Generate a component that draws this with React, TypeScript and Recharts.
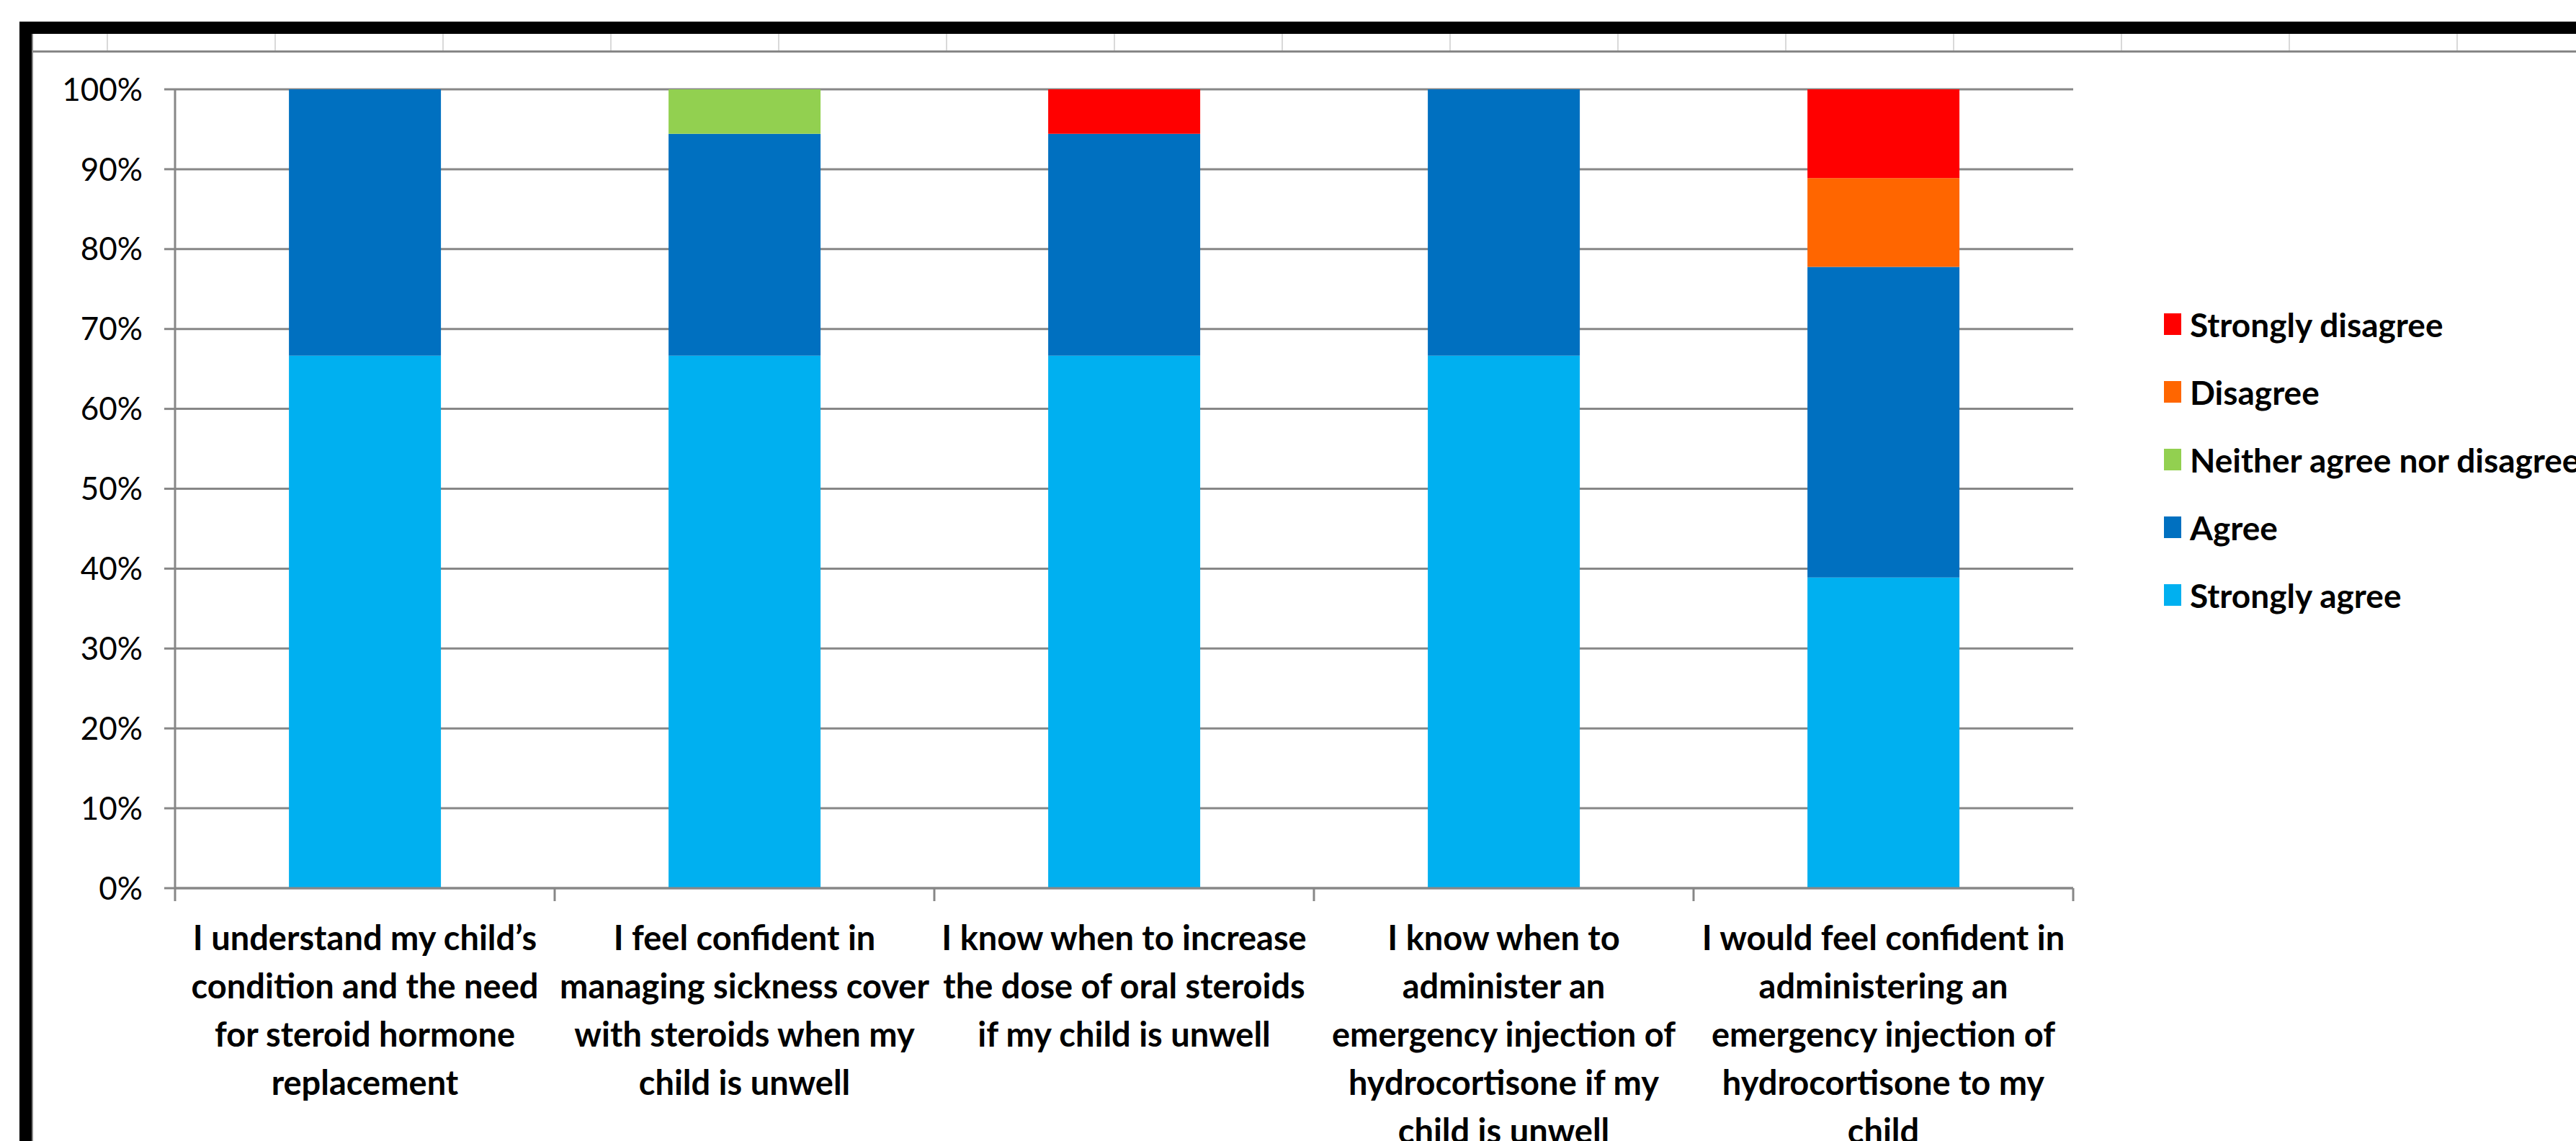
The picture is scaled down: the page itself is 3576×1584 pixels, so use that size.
import { BarChart, Bar, XAxis, YAxis, CartesianGrid } from 'recharts';

// survey answers, share of respondents (%)
const CATEGORIES = [
  'I understand my child’s\ncondition and the need\nfor steroid hormone\nreplacement',
  'I feel confident in\nmanaging sickness cover\nwith steroids when my\nchild is unwell',
  'I know when to increase\nthe dose of oral steroids\nif my child is unwell',
  'I know when to\nadminister an\nemergency injection of\nhydrocortisone if my\nchild is unwell',
  'I would feel confident in\nadministering an\nemergency injection of\nhydrocortisone to my\nchild',
];
const STRONGLY_AGREE = [66.67, 66.67, 66.67, 66.67, 38.89];
const AGREE = [33.33, 27.77, 27.77, 33.33, 38.89];
const NEITHER = [0, 5.56, 0, 0, 0];
const DISAGREE = [0, 0, 0, 0, 11.11];
const STRONGLY_DISAGREE = [0, 0, 5.56, 0, 11.11];
const Y_TICKS = [0, 10, 20, 30, 40, 50, 60, 70, 80, 90, 100];

const SERIES = [
  { key: 'sa', name: 'Strongly agree', values: STRONGLY_AGREE, color: '#00B0F0' },
  { key: 'a', name: 'Agree', values: AGREE, color: '#0070C0' },
  { key: 'n', name: 'Neither agree nor disagree', values: NEITHER, color: '#92D050' },
  { key: 'd', name: 'Disagree', values: DISAGREE, color: '#FF6600' },
  { key: 'sd', name: 'Strongly disagree', values: STRONGLY_DISAGREE, color: '#FF0000' },
];

const W = 3576;
const H = 1584;
const MARGIN = { top: 124, right: 698, bottom: 0, left: 0 };
const Y_AXIS_W = 243;
const X_AXIS_H = 351;
const BAND = (W - MARGIN.left - MARGIN.right - Y_AXIS_W) / CATEGORIES.length;
const GRID = '#878787';
const FONT = 'Lato, "Open Sans", sans-serif';

const data = CATEGORIES.map((name, i) => {
  const row: Record<string, any> = { name };
  SERIES.forEach(s => { row[s.key] = s.values[i]; });
  return row;
});

function CategoryTick(props: any) {
  const { x, y, payload, index } = props;
  const lines = String(payload.value).split('\n');
  const left = x - BAND / 2;
  return (
    <g>
      <line x1={left} x2={left} y1={y} y2={y + 18} stroke={GRID} strokeWidth={3} />
      {index === CATEGORIES.length - 1 && (
        <line x1={x + BAND / 2} x2={x + BAND / 2} y1={y} y2={y + 18} stroke={GRID} strokeWidth={3} />
      )}
      <text textAnchor="middle" fontFamily={FONT} fontWeight={700} fontSize={47} fill="#000">
        {lines.map((l, i) => (
          <tspan key={i} x={x} y={y + 86 + i * 67}>{l}</tspan>
        ))}
      </text>
    </g>
  );
}

export default function App() {
  const headerLines = Array.from({ length: 15 }, (_, k) => 148 + 233 * k);
  return (
    <div style={{ position: 'absolute', left: 0, top: 0, width: W, height: H, overflow: 'hidden', background: '#fff' }}>
      {/* sheet frame */}
      <div style={{ position: 'absolute', left: 27, top: 30, width: W - 27, height: 17, background: '#000' }} />
      <div style={{ position: 'absolute', left: 27, top: 30, width: 17, height: H - 30, background: '#000' }} />
      <div style={{ position: 'absolute', left: 44, top: 47, width: 2, height: H - 47, background: GRID }} />
      <div style={{ position: 'absolute', left: 44, top: 70, width: W - 44, height: 3, background: GRID }} />
      {headerLines.map(x => (
        <div key={x} style={{ position: 'absolute', left: x, top: 47, width: 2, height: 23, background: '#d9d9d9' }} />
      ))}

      <div style={{ position: 'absolute', left: 0, top: 0 }}>
        <BarChart width={W} height={H} data={data} margin={MARGIN} barCategoryGap="30%">
          <CartesianGrid vertical={false} stroke={GRID} strokeWidth={3} />
          <XAxis
            dataKey="name"
            height={X_AXIS_H}
            interval={0}
            tickLine={false}
            tickSize={0}
            tickMargin={0}
            axisLine={{ stroke: GRID, strokeWidth: 3 }}
            tick={<CategoryTick />}
          />
          <YAxis
            width={Y_AXIS_W}
            domain={[0, 100]}
            ticks={Y_TICKS}
            allowDataOverflow
            tickFormatter={(v: number) => `${v}%`}
            tickSize={15}
            tickMargin={30}
            tickLine={{ stroke: GRID, strokeWidth: 3 }}
            axisLine={{ stroke: GRID, strokeWidth: 3 }}
            tick={{ fontFamily: FONT, fontSize: 44, fill: '#000' }}
          />
          {SERIES.map(s => (
            <Bar key={s.key} dataKey={s.key} name={s.name} stackId="all" fill={s.color} isAnimationActive={false} />
          ))}
        </BarChart>
      </div>

      {/* legend, top entry = last stacked series */}
      <div style={{ position: 'absolute', left: 3004, top: 403, fontFamily: FONT, fontWeight: 700, fontSize: 46, color: '#000' }}>
        {[...SERIES].reverse().map(s => (
          <div key={s.key} style={{ display: 'flex', alignItems: 'center', height: 94, whiteSpace: 'nowrap' }}>
            <span style={{ display: 'inline-block', width: 24, height: 30, background: s.color, marginRight: 12 }} />
            <span>{s.name}</span>
          </div>
        ))}
      </div>
    </div>
  );
}
